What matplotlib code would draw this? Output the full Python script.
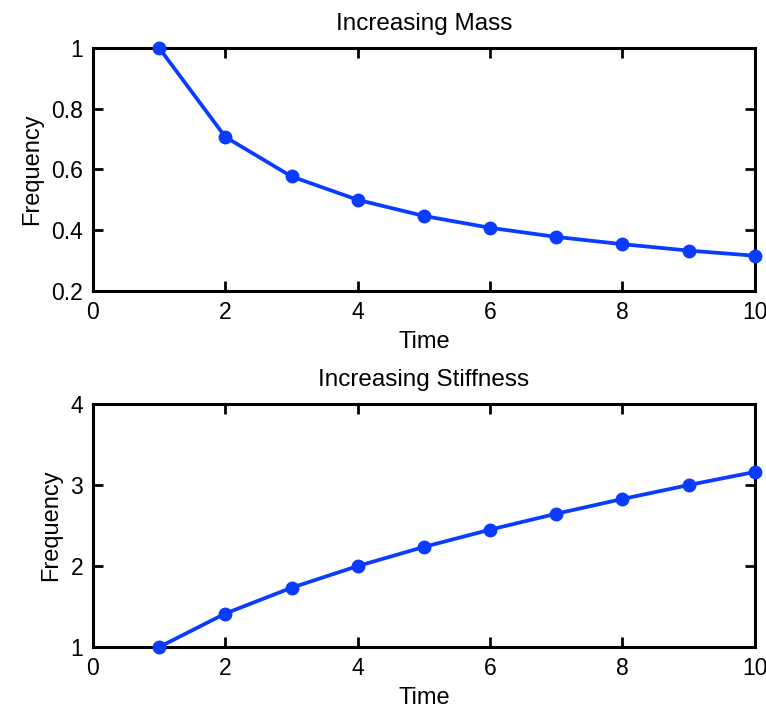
import matplotlib.pyplot as plt

# values
time = [1, 2, 3, 4, 5, 6, 7, 8, 9, 10]
freq_mass = [1.0, 0.707, 0.577, 0.5, 0.447, 0.408, 0.378, 0.354, 0.333, 0.316]
freq_stiff = [1.0, 1.414, 1.732, 2.0, 2.236, 2.449, 2.646, 2.828, 3.0, 3.162]

plt.rcParams['font.family'] = ['Liberation Sans', 'DejaVu Sans']

line_color = '#0a3cff'

fig = plt.figure(figsize=(7.66, 7.09), dpi=100)
ax1 = fig.add_axes([0.1214, 0.5896, 0.864, 0.3427])
ax2 = fig.add_axes([0.1214, 0.0874, 0.864, 0.3427])


def style_axes(ax, data, title, ylim, yticks):
    ax.plot(time, data, color=line_color, linewidth=2.7,
            marker='o', markersize=9, clip_on=False, zorder=3)
    ax.set_xlim(0, 10)
    ax.set_ylim(*ylim)
    ax.set_xticks([0, 2, 4, 6, 8, 10])
    ax.set_yticks(yticks)
    ax.set_yticklabels([('%g' % v) for v in yticks])
    ax.tick_params(direction='in', length=7, width=2, top=True, right=True,
                   labelsize=16.5, pad=7)
    for s in ax.spines.values():
        s.set_linewidth(2.2)
    ax.set_title(title, fontsize=17.5, pad=13)
    ax.set_xlabel('Time', fontsize=17, labelpad=5)
    ax.set_ylabel('Frequency', fontsize=17, labelpad=6)


style_axes(ax1, freq_mass, 'Increasing Mass', (0.2, 1.0), [0.2, 0.4, 0.6, 0.8, 1.0])
style_axes(ax2, freq_stiff, 'Increasing Stiffness', (1, 4), [1, 2, 3, 4])

fig.savefig('out.png', dpi=100)
